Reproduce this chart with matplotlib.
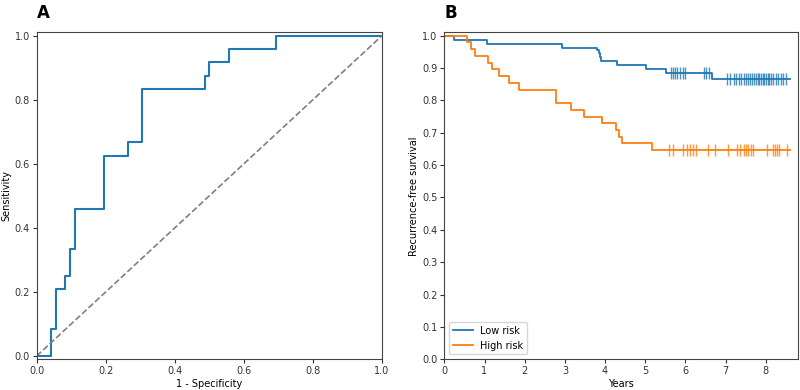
import numpy as np
import matplotlib.pyplot as plt

# ROC curve (panel A)
fpr = [0.0, 0.042, 0.042, 0.056, 0.056, 0.083, 0.083, 0.097, 0.097, 0.111, 0.111,
       0.194, 0.194, 0.264, 0.264, 0.306, 0.306, 0.486, 0.486, 0.5, 0.5,
       0.556, 0.556, 0.694, 0.694, 1.0]
tpr = [0.0, 0.0, 0.083, 0.083, 0.208, 0.208, 0.25, 0.25, 0.333, 0.333, 0.458,
       0.458, 0.625, 0.625, 0.667, 0.667, 0.833, 0.833, 0.875, 0.875, 0.917,
       0.917, 0.958, 0.958, 1.0, 1.0]

# Kaplan-Meier curves (panel B)
low_t = [0.0, 0.23, 1.05, 2.93, 3.80, 3.84, 3.87, 3.90, 4.30, 5.01, 5.52, 6.65, 8.6]
low_s = [1.0, 0.987, 0.974, 0.961, 0.955, 0.948, 0.935, 0.922, 0.909, 0.896, 0.884, 0.867, 0.867]
low_cens = [5.64, 5.68, 5.74, 5.80, 5.86, 5.93, 5.98, 6.45, 6.51, 6.58,
            7.03, 7.12, 7.21, 7.26, 7.32, 7.39, 7.46, 7.51, 7.56, 7.60, 7.65, 7.70,
            7.75, 7.80, 7.84, 7.88, 7.92, 7.96, 8.01, 8.05, 8.09, 8.14, 8.19, 8.25,
            8.31, 8.37, 8.43, 8.49]

high_t = [0.0, 0.57, 0.67, 0.76, 1.09, 1.19, 1.35, 1.61, 1.86, 2.79, 3.16, 3.47,
          3.92, 4.27, 4.35, 4.43, 5.17, 8.6]
high_s = [1.0, 0.979, 0.958, 0.938, 0.917, 0.896, 0.875, 0.854, 0.833, 0.792, 0.771,
          0.75, 0.729, 0.708, 0.688, 0.667, 0.646, 0.646]
high_cens = [5.58, 5.68, 5.95, 6.04, 6.12, 6.19, 6.27, 6.55, 6.74, 7.05, 7.28, 7.36,
             7.45, 7.51, 7.56, 7.62, 7.69, 8.04, 8.18, 8.23, 8.28, 8.33, 8.52]

plt.rcParams['font.size'] = 7
plt.rcParams['axes.edgecolor'] = '#444444'
plt.rcParams['xtick.color'] = '#333333'
plt.rcParams['ytick.color'] = '#333333'
plt.rcParams['xtick.major.size'] = 3
plt.rcParams['ytick.major.size'] = 3
plt.rcParams['xtick.major.pad'] = 2
plt.rcParams['ytick.major.pad'] = 2
plt.rcParams['axes.labelpad'] = 2

fig = plt.figure(figsize=(8, 3.9), dpi=100)
ax1 = fig.add_axes([0.0459, 0.0787, 0.4316, 0.8385])
ax2 = fig.add_axes([0.5554, 0.0787, 0.4416, 0.8385])

# panel A
ax1.plot(fpr, tpr, color='#1f77b4', lw=1.5)
ax1.plot([0, 1], [0, 1], color='gray', ls='--', lw=1.2)
ax1.set_xlim(0, 1)
ax1.set_ylim(-0.0105, 1.0105)
ax1.set_xlabel('1 - Specificity')
ax1.set_ylabel('Sensitivity')
ax1.set_xticks(np.arange(0, 1.01, 0.2))
ax1.set_yticks(np.arange(0, 1.01, 0.2))
fig.text(0.0459, 0.99, 'A', fontsize=12, fontweight='bold', va='top', ha='left')


def km_at(times, surv, t):
    idx = np.searchsorted(times, t, side='right') - 1
    return np.array(surv)[idx]


# panel B
ax2.step(low_t, low_s, where='post', color='#1f77b4', lw=1.3, label='Low risk')
ax2.plot(low_cens, km_at(low_t, low_s, low_cens), ls='none', marker='|',
         ms=8, mew=1, color='#1f77b4', alpha=0.8)
ax2.step(high_t, high_s, where='post', color='#ff7f0e', lw=1.3, label='High risk')
ax2.plot(high_cens, km_at(high_t, high_s, high_cens), ls='none', marker='|',
         ms=8, mew=1, color='#ff7f0e', alpha=0.8)
ax2.set_xlim(0, 8.79)
ax2.set_ylim(0, 1.0105)
ax2.set_xticks(range(0, 9))
ax2.set_yticks(np.arange(0, 1.01, 0.1))
ax2.set_xlabel('Years')
ax2.set_ylabel('Recurrence-free survival')
ax2.legend(loc='lower left', fontsize=7)
fig.text(0.5554, 0.99, 'B', fontsize=12, fontweight='bold', va='top', ha='left')

fig.savefig('out.png', dpi=100)
